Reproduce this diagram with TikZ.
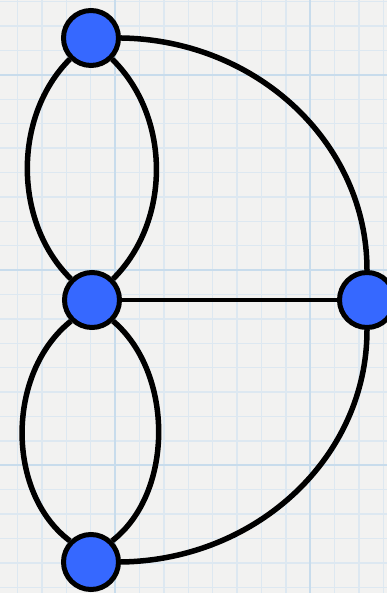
\documentclass[tikz,border=0pt]{standalone}
\definecolor{bg}{HTML}{F2F2F1}
\definecolor{gridminor}{HTML}{DDE8F1}
\definecolor{gridmajor}{HTML}{C8DCEC}
\definecolor{nodeblue}{HTML}{3668FF}
\begin{document}
\begin{tikzpicture}[x=1pt,y=1pt,
  vertex/.style={circle,draw=black,fill=nodeblue,line width=5pt,minimum size=55pt,inner sep=0pt},
  edge/.style={line width=5.5pt,draw=black},
  minorline/.style={gridminor,line width=1.4pt},
  majorline/.style={gridmajor,line width=2pt}]
\fill[bg] (0,0) rectangle (387,593);
\useasboundingbox (0,0) rectangle (387,593);
\foreach \k in {0,...,15} {\draw[minorline] ({17.4+24.4*\k},0) -- ++(0,593);}
\foreach \k in {0,...,24} {\draw[minorline] (0,{591.2-24.4*\k}) -- ++(387,0);}
\foreach \k in {4,12} {\draw[majorline] ({17.4+24.4*\k},0) -- ++(0,593);}
\foreach \k in {3,11,19} {\draw[majorline] (0,{591.2-24.4*\k}) -- ++(387,0);}
\node[vertex] (top) at (91,555) {};
\node[vertex] (mid) at (92,293) {};
\node[vertex] (bot) at (91,31) {};
\node[vertex] (right) at (367,293) {};
\draw[edge] (top.225) .. controls (13,477) and (13,371) .. (mid.135);
\draw[edge] (top.315) .. controls (171,476) and (171,372) .. (mid.45);
\draw[edge] (mid.225) .. controls (6,220) and (6,100) .. (bot.135);
\draw[edge] (mid.315) .. controls (174,220) and (174,100) .. (bot.45);
\draw[edge,line width=4.3pt] (mid) -- (right);
\draw[edge] (top.east) .. controls (257,553) and (367,450) .. (right.north);
\draw[edge] (bot.east) .. controls (257,33) and (367,136) .. (right.south);
\end{tikzpicture}
\end{document}
